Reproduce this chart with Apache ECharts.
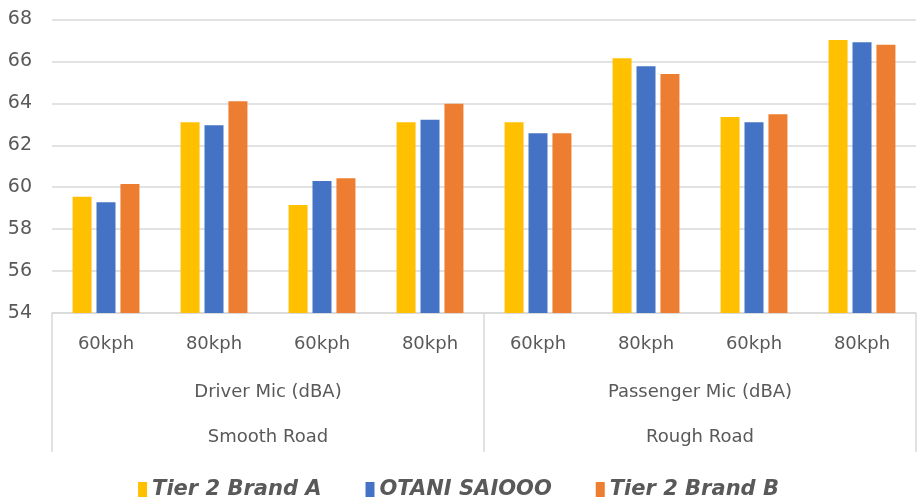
<!DOCTYPE html>
<html>
<head>
<meta charset="utf-8">
<script src="https://cdn.jsdelivr.net/npm/echarts@6/dist/echarts.min.js"></script>
<style>html,body{margin:0;padding:0;background:#fff}#c{width:917px;height:500px}</style>
</head>
<body>
<div id="c"></div>
<script>
const speeds = ['60kph','80kph','60kph','80kph','60kph','80kph','60kph','80kph'];
const mics = ['Driver Mic (dBA)','Passenger Mic (dBA)'];
const roads = ['Smooth Road','Rough Road'];
const seriesNames = ['Tier 2 Brand A','OTANI SAIOOO','Tier 2 Brand B'];
const brandA = [59.55, 63.1, 59.15, 63.1, 63.1, 66.15, 63.35, 67.02];
const otani  = [59.28, 62.95, 60.3, 63.22, 62.57, 65.77, 63.1, 66.92];
const brandB = [60.15, 64.1, 60.43, 63.98, 62.57, 65.4, 63.48, 66.79];
const colors = ['#FFC000','#4472C4','#ED7D31'];
const yTicks = {min:54, max:68, interval:2};

const txt = '#595959', line = '#d9d9d9', font = 'DejaVu Sans';
const chart = echarts.init(document.getElementById('c'));
const data = [brandA, otani, brandB];
chart.setOption({
  animation:false,
  color: colors,
  grid:{left:52, right:1, top:19.5, bottom:187, containLabel:false},
  legend:{
    top:474, left:'center', itemWidth:9, itemHeight:15, itemGap:44,
    icon:'rect',
    textStyle:{color:txt, fontSize:21, fontStyle:'italic', fontWeight:'bold', fontFamily:'DejaVu Sans'},
    data: seriesNames
  },
  xAxis:[
    {type:'category', data:speeds, gridIndex:0,
     axisLine:{lineStyle:{color:line, width:1.5}}, axisTick:{show:false},
     axisLabel:{color:txt, fontSize:18, fontFamily:font, margin:22}},
    {type:'category', data:mics, position:'bottom', gridIndex:0,
     axisLine:{show:false}, axisTick:{show:false},
     axisLabel:{color:txt, fontSize:18, fontFamily:font, margin:70}},
    {type:'category', data:roads, position:'bottom', gridIndex:0,
     axisLine:{show:false},
     axisTick:{show:true, length:139, lineStyle:{color:line, width:1.5}},
     axisLabel:{color:txt, fontSize:18, fontFamily:font, margin:115}}
  ],
  yAxis:{type:'value', min:yTicks.min, max:yTicks.max, interval:yTicks.interval,
    axisLine:{show:false}, axisTick:{show:false},
    splitLine:{lineStyle:{color:line, width:1.5}},
    axisLabel:{color:txt, fontSize:19, fontFamily:font, margin:20}},
  series: seriesNames.map((n,i)=>({
    name:n, type:'bar', xAxisIndex:0, data:data[i], barWidth:19, barGap:'26%'
  }))
});
</script>
</body>
</html>
